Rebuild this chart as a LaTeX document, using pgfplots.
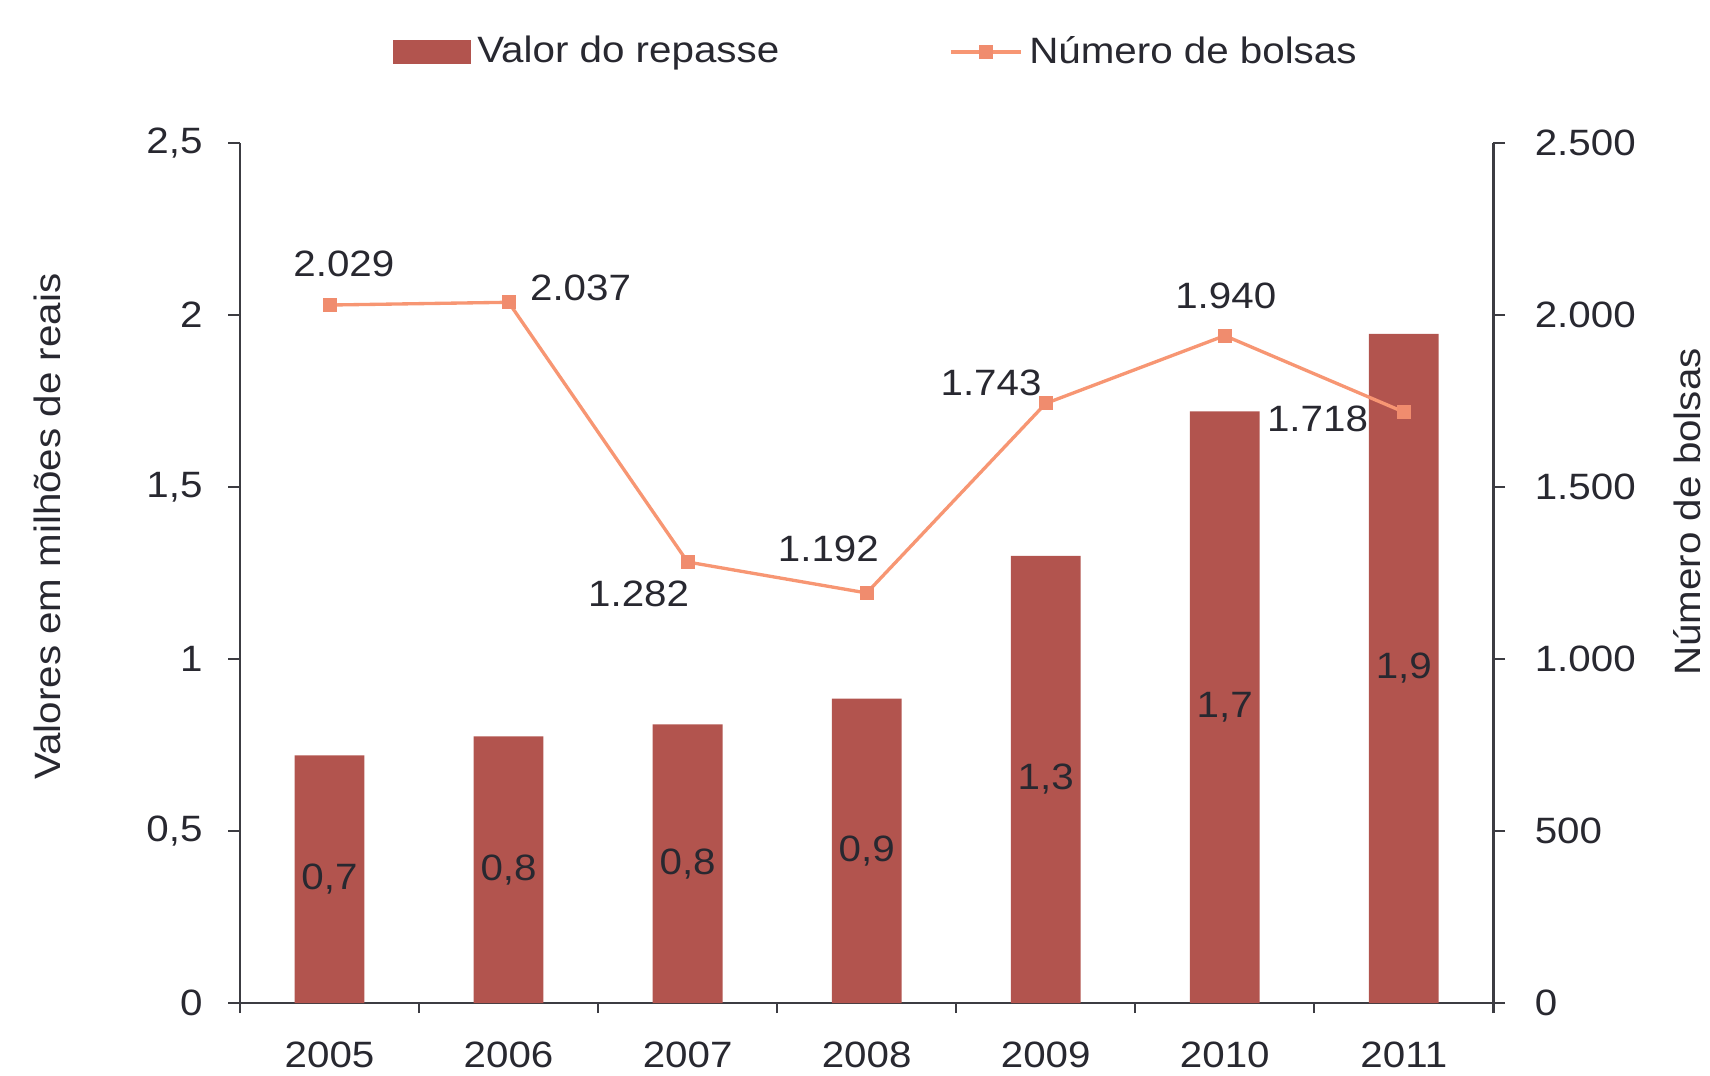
\documentclass[border=0pt]{standalone}
\usepackage{fontspec}
\setmainfont{Liberation Sans}[FakeStretch=1.1]
\usepackage{pgfplots}
\usepackage{pgfplotstable}
\pgfplotsset{compat=1.18}

\definecolor{barcol}{RGB}{178,84,78}
\definecolor{linecol}{RGB}{247,150,115}
\definecolor{markcol}{RGB}{240,140,110}
\definecolor{axcol}{RGB}{60,60,66}
\definecolor{textcol}{RGB}{40,40,48}

\pgfplotstableread{
x y lab
0 0.72 0,7
1 0.775 0,8
2 0.81 0,8
3 0.885 0,9
4 1.30 1,3
5 1.72 1,7
6 1.945 1,9
}\bartable

\pgfplotstableread{
x y lab dx dy
0 2029 2.029 4.3 12.4
1 2037 2.037 21.6 4.3
2 1282 1.282 -14.7 -9.5
3 1192 1.192 -11.5 13.1
4 1743 1.743 -16.4 6.2
5 1940 1.940 0.3 11.8
6 1718 1.718 -25.9 -2
}\linetable

\newcommand{\chartfont}{\fontsize{11}{13}\selectfont}

\pgfplotsset{
  common/.style={
    scale only axis, width=376pt, height=258pt,
    at={(0pt,0pt)}, anchor=south west,
    xmin=-0.5, xmax=6.5,
    tick align=outside, major tick length=3.5pt, minor tick length=3pt,
    axis line style={draw=axcol, line width=0.7pt},
    every tick/.style={draw=axcol, line width=0.7pt},
    tick label style={font=\chartfont, text=textcol},
    label style={font=\chartfont, text=textcol},
    /pgf/number format/assume math mode=true,
  },
  mylegline/.style={legend image code/.code={\draw[##1, mark repeat=2, mark phase=2] plot coordinates {(0pt,0pt) (10.5pt,0pt) (21pt,0pt)};}},
  mylegbar/.style={legend image code/.code={\fill[barcol] (0pt,-3.5pt) rectangle (23pt,3.5pt);}},
}

\begin{document}
\begin{tikzpicture}
\path[use as bounding box] (-72pt,-21.6pt) rectangle (441pt,300.9pt);

\begin{axis}[common,
  axis x line*=bottom, axis y line*=left,
  ymin=0, ymax=2.5, ytick={0,0.5,1,1.5,2,2.5},
  yticklabel style={/pgf/number format/use comma, /pgf/number format/fixed, /pgf/number format/precision=1},
  y tick label style={xshift=-4.2pt},
  xtick={0,1,2,3,4,5,6},
  xticklabels={2005,2006,2007,2008,2009,2010,2011},
  major x tick style={draw=none},
  minor xtick={-0.5,0.5,1.5,2.5,3.5,4.5,5.5,6.5},
  x tick label style={yshift=-4.5pt},
  ylabel={Valores em milhões de reais},
  ylabel style={at={(axis description cs:-0.154,0.554)}, anchor=center},
]
\addplot[ybar, bar width=0.39, fill=barcol, draw=none,
  nodes near coords, point meta=explicit symbolic,
  visualization depends on=rawy\as\rawy,
  every node near coord/.append style={anchor=center, font=\chartfont, text=textcol,
     shift={(axis direction cs:0,-\rawy/2)}}]
  table[x=x,y=y,meta=lab]{\bartable};
\end{axis}

\begin{axis}[common,
  axis x line=none, axis y line*=right,
  ymin=0, ymax=2500, ytick={0,500,1000,1500,2000,2500},
  yticklabel style={/pgf/number format/1000 sep={.}, /pgf/number format/fixed},
  y tick label style={xshift=5.4pt},
  ylabel={Número de bolsas},
  ylabel style={at={(axis description cs:1.1547,0.571)}, anchor=center},
  legend style={at={(axis description cs:0.509,1.1057)}, anchor=center,
     draw=none, fill=none, legend columns=2, font=\chartfont, text=textcol,
     /tikz/every even column/.append style={column sep=49pt}},
]
\addlegendimage{mylegbar}
\addlegendentry{Valor do repasse}
\addplot[linecol, line width=1pt, mark=square*, mark size=1.6pt,
  mark options={fill=markcol, draw=markcol},
  mylegline,
  nodes near coords, point meta=explicit symbolic,
  visualization depends on={\thisrow{dx}\as\lblx},
  visualization depends on={\thisrow{dy}\as\lbly},
  every node near coord/.append style={anchor=center, xshift=\lblx pt, yshift=\lbly pt,
     text=textcol, font=\chartfont}]
  table[x=x,y=y,meta=lab]{\linetable};
\addlegendentry{Número de bolsas}
\end{axis}
\end{tikzpicture}
\end{document}
